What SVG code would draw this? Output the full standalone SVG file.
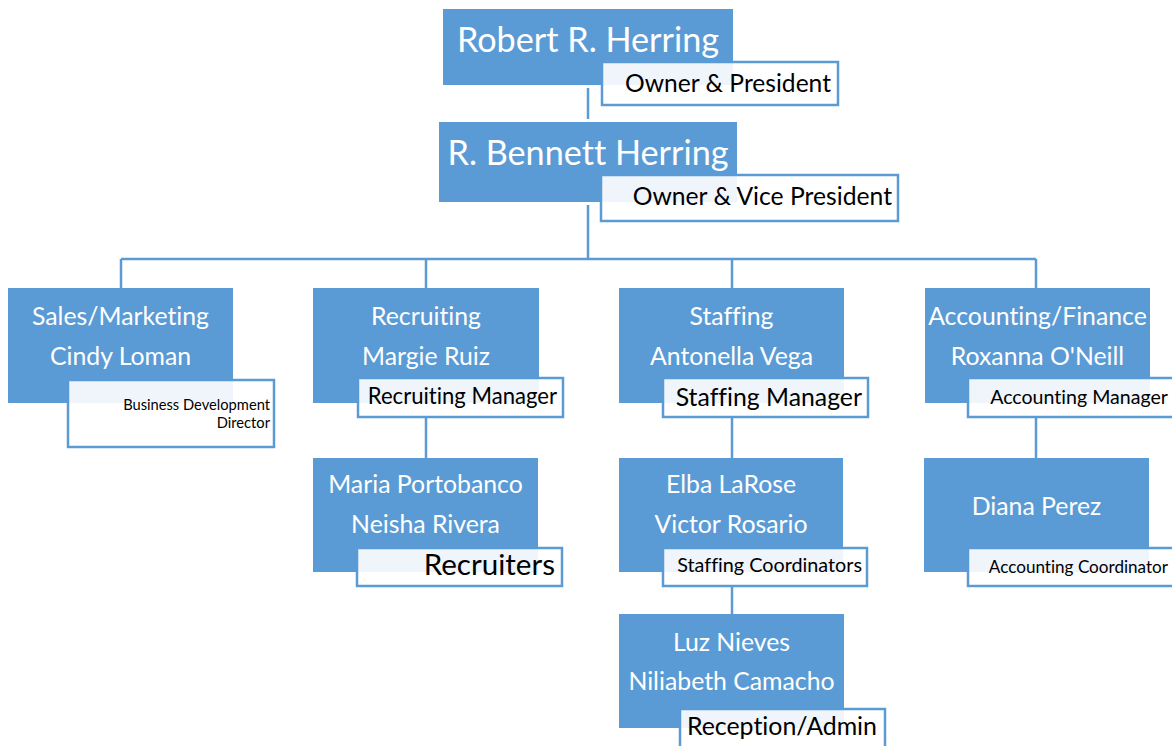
<svg xmlns="http://www.w3.org/2000/svg" width="1172" height="746" viewBox="0 0 1172 746">
<style>
.box{fill:#5b9bd5}
.tb{fill:#ffffff;fill-opacity:0.9;stroke:#5b9bd5;stroke-width:2.5}
.main{fill:#ffffff;font-family:Lato,"Liberation Sans",sans-serif;text-anchor:middle;font-variant-ligatures:no-common-ligatures}
.ttl{fill:#000000;font-family:Lato,"Liberation Sans",sans-serif;text-anchor:end;font-variant-ligatures:no-common-ligatures}
.con{fill:none;stroke:#5b9bd5;stroke-width:2.5}
</style>
<rect width="1172" height="746" fill="#ffffff"/>
<g id="connectors">
<path class="con" d="M588 88V119"/>
<path class="con" d="M588 205V259M121 259H1036M121 259V288M426 259V288M732 259V288M1036 259V288"/>
<path class="con" d="M426 417V458M732 417V458M1036 417V458M732 586V614"/>
</g>
<g id="n-robert">
<rect class="box" x="443" y="9" width="290" height="76"/>
<text class="main" x="588" y="52" font-size="34.2">Robert R. Herring</text>
<rect class="tb" x="602" y="62" width="236" height="43"/>
<text class="ttl" x="831" y="92" font-size="24.6">Owner &amp; President</text>
</g>
<g id="n-bennett">
<rect class="box" x="439" y="122" width="298" height="80"/>
<text class="main" x="588" y="165" font-size="34.2">R. Bennett Herring</text>
<rect class="tb" x="601" y="175" width="297" height="46"/>
<text class="ttl" x="892" y="205" font-size="24.7">Owner &amp; Vice President</text>
</g>
<g id="n-sales">
<rect class="box" x="8" y="288" width="225" height="115"/>
<text class="main" x="120.5" y="325" font-size="24.8">Sales/Marketing</text>
<text class="main" x="120.5" y="365" font-size="24.8">Cindy Loman</text>
<rect class="tb" x="68" y="380" width="206" height="67"/>
<text class="ttl" x="270" y="410" font-size="14.7">Business Development</text>
<text class="ttl" x="270" y="428" font-size="14.7">Director</text>
</g>
<g id="n-recruiting">
<rect class="box" x="313" y="288" width="226" height="115"/>
<text class="main" x="426" y="325" font-size="24.8">Recruiting</text>
<text class="main" x="426" y="365" font-size="24.8">Margie Ruiz</text>
<rect class="tb" x="358" y="378" width="205" height="39"/>
<text class="ttl" x="557" y="404" font-size="22.1">Recruiting Manager</text>
</g>
<g id="n-staffing">
<rect class="box" x="619" y="288" width="225" height="115"/>
<text class="main" x="731.5" y="325" font-size="24.8">Staffing</text>
<text class="main" x="731.5" y="365" font-size="24.8">Antonella Vega</text>
<rect class="tb" x="663" y="378" width="205" height="39"/>
<text class="ttl" x="862" y="406" font-size="24.8">Staffing Manager</text>
</g>
<g id="n-accounting">
<rect class="box" x="925" y="288" width="225" height="115"/>
<text class="main" x="1037.5" y="325" font-size="24.8">Accounting/Finance</text>
<text class="main" x="1037.5" y="365" font-size="24.8">Roxanna O'Neill</text>
<rect class="tb" x="968" y="378" width="210" height="39"/>
<text class="ttl" x="1168" y="404" font-size="19.6">Accounting Manager</text>
</g>
<g id="n-recruiters">
<rect class="box" x="313" y="458" width="225" height="114"/>
<text class="main" x="425.5" y="493" font-size="24.8">Maria Portobanco</text>
<text class="main" x="425.5" y="533" font-size="24.8">Neisha Rivera</text>
<rect class="tb" x="357" y="548" width="205" height="38"/>
<text class="ttl" x="555" y="575" font-size="29.6">Recruiters</text>
</g>
<g id="n-coordinators">
<rect class="box" x="619" y="458" width="224" height="114"/>
<text class="main" x="731" y="493" font-size="24.8">Elba LaRose</text>
<text class="main" x="731" y="533" font-size="24.8">Victor Rosario</text>
<rect class="tb" x="663" y="548" width="204" height="38"/>
<text class="ttl" x="862" y="572" font-size="19.8">Staffing Coordinators</text>
</g>
<g id="n-diana">
<rect class="box" x="924" y="458" width="225" height="114"/>
<text class="main" x="1036.5" y="515" font-size="24.8">Diana Perez</text>
<rect class="tb" x="968" y="548" width="210" height="38"/>
<text class="ttl" x="1168" y="573" font-size="17.1">Accounting Coordinator</text>
</g>
<g id="n-reception">
<rect class="box" x="619" y="614" width="225" height="114"/>
<text class="main" x="731.5" y="651" font-size="24.8">Luz Nieves</text>
<text class="main" x="731.5" y="690" font-size="24.8">Niliabeth Camacho</text>
<rect class="tb" x="680" y="709" width="205" height="45"/>
<text class="ttl" x="877" y="735" font-size="24.9">Reception/Admin</text>
</g>
</svg>
